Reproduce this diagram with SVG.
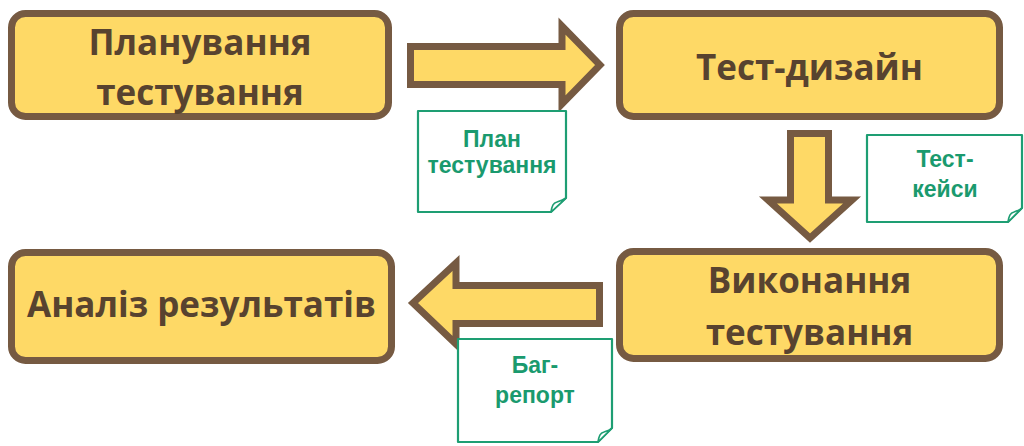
<svg xmlns="http://www.w3.org/2000/svg" width="1024" height="446" viewBox="0 0 1024 446">
<defs>
<style>
.box{fill:#FED966;stroke:#765A42;stroke-width:7}
.arr{fill:#FED966;stroke:#765A42;stroke-width:7;stroke-linejoin:miter}
.bt{font-family:"Open Sans","Noto Sans",sans-serif;font-weight:700;font-size:35px;fill:#58432F;text-anchor:middle}
.card{fill:#FFFFFF;stroke:#1E9E73;stroke-width:2.2;stroke-linejoin:round}
.fold{fill:#FFFFFF;stroke:#1E9E73;stroke-width:1.6;stroke-linejoin:round}
.ct{font-family:"Liberation Sans",Arial,sans-serif;font-weight:700;font-size:23px;fill:#1A9A6E;text-anchor:middle}
</style>
</defs>
<rect width="1024" height="446" fill="#FFFFFF"/>
<g id="connectors">
<path class="arr" d="M410.5,46.5 H562 V26 L600,65 L562,104 V84.5 H410.5 Z"/>
<path class="arr" d="M790.5,133.5 H828.5 V200 H852 L810,238 L768,200 H790.5 Z"/>
<path class="arr" d="M599.5,285.5 H456 V263 L413,303 L456,344 V323.5 H599.5 Z"/>
</g>
<g id="node-planning">
<rect class="box" x="11.5" y="13.5" width="377" height="103" rx="14"/>
<text class="bt" x="200" y="55">Планування</text>
<text class="bt" x="200" y="105">тестування</text>
</g>
<g id="node-design">
<rect class="box" x="619.5" y="13.5" width="380" height="103" rx="14"/>
<text class="bt" x="809.5" y="80">Тест-дизайн</text>
</g>
<g id="node-execution">
<rect class="box" x="619.5" y="251.5" width="380" height="107" rx="14"/>
<text class="bt" x="809.5" y="293">Виконання</text>
<text class="bt" x="809.5" y="345">тестування</text>
</g>
<g id="node-analysis">
<rect class="box" x="11.5" y="252.5" width="380" height="108" rx="14"/>
<text class="bt" x="201.5" y="317">Аналіз результатів</text>
</g>
<g id="card-plan">
<path class="card" d="M418,111 H566 V198 L551,212 H418 Z"/>
<path class="fold" d="M566,198 L551,212 C552,206 553,203 557,202 C560,201 563,200 566,198 Z"/>
<text class="ct" x="492" y="147">План</text>
<text class="ct" x="492" y="173">тестування</text>
</g>
<g id="card-cases">
<path class="card" d="M867,135 H1022 V208 L1008,222 H867 Z"/>
<path class="fold" d="M1022,208 L1008,222 C1009,216 1010,213 1014,212 C1017,211 1020,210 1022,208 Z"/>
<text class="ct" x="945" y="167">Тест-</text>
<text class="ct" x="945" y="197">кейси</text>
</g>
<g id="card-bug">
<path class="card" d="M458,339 H612 V428 L598,442 H458 Z"/>
<path class="fold" d="M612,428 L598,442 C599,436 600,433 604,432 C607,431 610,430 612,428 Z"/>
<text class="ct" x="535" y="373">Баг-</text>
<text class="ct" x="535" y="403">репорт</text>
</g>
</svg>
